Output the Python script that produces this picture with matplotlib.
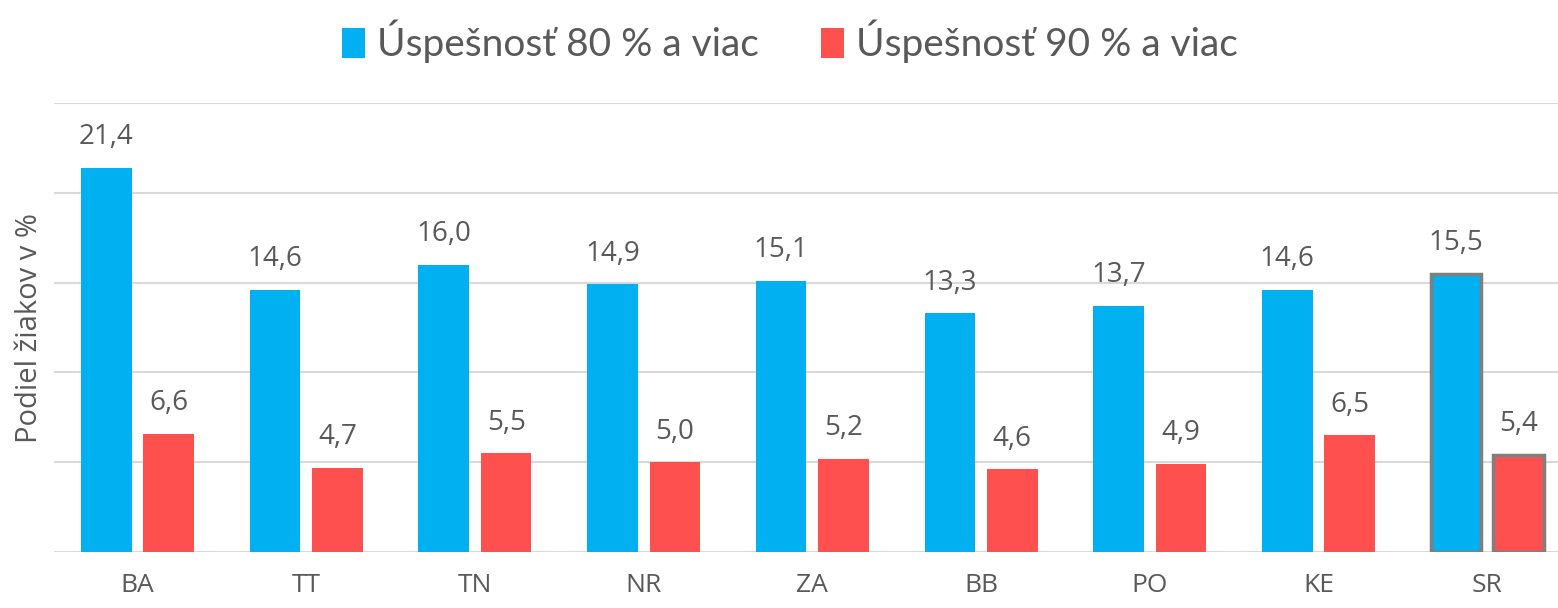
import numpy as np
from matplotlib import pyplot as plt

kraje = ["BA", "TT", "TN", "NR", "ZA", "BB", "PO", "KE", "SR"]
uspesnost_80 = [21.4, 14.6, 16.0, 14.9, 15.1, 13.3, 13.7, 14.6, 15.5]
uspesnost_90 = [6.6, 4.7, 5.5, 5.0, 5.2, 4.6, 4.9, 6.5, 5.4]
nazvy = ["Úspešnosť 80 % a viac", "Úspešnosť 90 % a viac"]

modra = "#00B0F0"
cervena = "#FF5050"
siva = "#595959"

plt.rcParams['font.family'] = ['Open Sans', 'DejaVu Sans']

fig = plt.figure(figsize=(15.58, 6.08), dpi=100)
ax = fig.add_axes([0.0347, 0.092, 0.9653, 0.7385])

x = np.arange(len(kraje))
sirka = 0.3
b1 = ax.bar(x - 0.185, uspesnost_80, sirka, color=modra, label=nazvy[0], zorder=3)
b2 = ax.bar(x + 0.185, uspesnost_90, sirka, color=cervena, label=nazvy[1], zorder=3)

# SR (cela Slovenska republika) je zvyraznena sivym okrajom
for b in (b1[-1], b2[-1]):
    b.set_edgecolor("#7F7F7F")
    b.set_linewidth(2.5)

for bars, vals in ((b1, uspesnost_80), (b2, uspesnost_90)):
    for b, v in zip(bars, vals):
        ax.annotate(f"{v:.1f}".replace(".", ","), (b.get_x() + b.get_width() / 2, v),
                    xytext=(0, 12), textcoords="offset points",
                    ha="center", va="bottom", fontsize=20, color=siva)

ax.set_ylim(0, 25)
ax.set_xlim(-0.495, 8.42)
ax.set_yticks(np.arange(0, 26, 5))
ax.set_yticklabels([])
ax.tick_params(axis="y", length=0)
ax.tick_params(axis="x", length=0, pad=15, labelsize=19, labelcolor=siva)
ax.set_xticks(x)
ax.set_xticklabels(kraje)
ax.grid(axis="y", color="#D9D9D9", linewidth=1.5, zorder=0)
for s in ax.spines.values():
    s.set_visible(False)
ax.set_ylabel("Podiel žiakov v %", fontsize=21, color=siva, labelpad=4)

fig.legend(handles=[b1, b2], labels=nazvy, loc="upper center", bbox_to_anchor=(0.507, 1.025),
           ncol=2, frameon=False, handlelength=0.6, handleheight=0.8, handletextpad=0.3,
           columnspacing=1.6, prop={"family": ["Lato", "DejaVu Sans"], "size": 28},
           labelcolor=siva)

fig.savefig("out.png", dpi=100)
